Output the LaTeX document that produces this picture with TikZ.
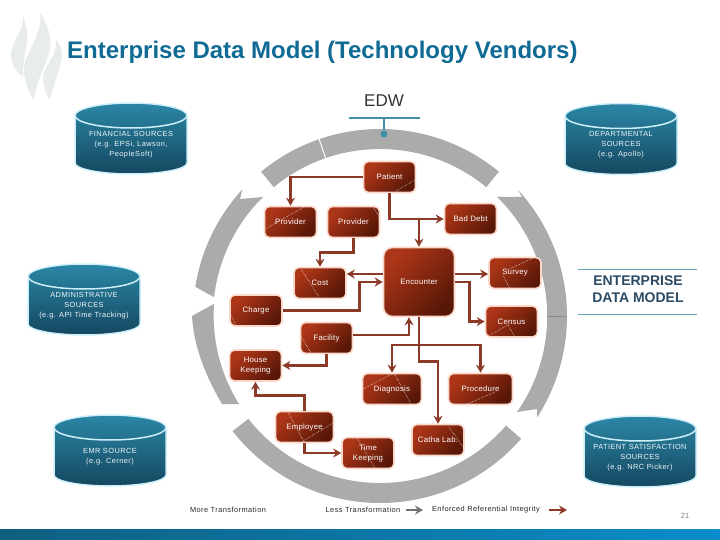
\documentclass[tikz,border=0pt]{standalone}
\usepackage{fontspec}
\setmainfont{Liberation Sans}
\usetikzlibrary{arrows.meta,positioning}
\definecolor{titleblue}{HTML}{0F6A94}
\definecolor{ringgray}{HTML}{ABABAB}
\definecolor{brownline}{HTML}{8C3A28}
\definecolor{tblhi}{HTML}{AE3618}
\definecolor{tbllo}{HTML}{581707}
\definecolor{tblrim}{HTML}{FBD8CA}
\definecolor{dbhi}{HTML}{2B87A6}
\definecolor{dblo}{HTML}{154760}
\definecolor{dbrim}{HTML}{CDEFF9}
\definecolor{navytext}{HTML}{2B4A63}
\definecolor{ruleblue}{HTML}{62A9B8}
\definecolor{flamegray}{HTML}{E8ECEC}
\definecolor{barlo}{HTML}{0F5F7F}
\definecolor{barhi}{HTML}{0A8DCB}

\begin{document}
\begin{tikzpicture}[
  x=1pt, y=1pt,
  tbl/.style={rectangle, rounded corners=5pt, draw=tblrim, line width=1.6pt,
    top color=tblhi, bottom color=tbllo, shading angle=45,
    minimum width=52pt, minimum height=31pt, inner sep=0pt, align=center,
    text=white, font=\fontsize{7.8}{10}\selectfont\addfontfeature{LetterSpace=3}},
  edge/.style={-{Stealth[length=8pt,width=9pt]}, line width=2.8pt, draw=brownline},
  dots/.style={white, densely dotted, line width=0.5pt},
  dbase/.pic={
    \shade[top color=dbhi, bottom color=dblo, draw=dbrim, line width=1.5pt]
      (-56,23) arc (180:0:56 and 12.5) -- (56,-24.5) arc (0:-180:56 and 11) -- cycle;
    \draw[dbrim, line width=1.5pt] (-56,23) arc (180:360:56 and 12.5);
  },
  dbtext/.style={align=center, text=white!92!dbhi, font=\fontsize{7.4}{10}\selectfont\addfontfeature{LetterSpace=6}},
  legendtext/.style={text=black!85, font=\fontsize{7.4}{8}\selectfont\addfontfeature{LetterSpace=6}},
  ring/.style={fill=ringgray, draw=none}
]
\useasboundingbox (0,0) rectangle (720,-540);

% --- Bar and logo ---
\shade[left color=barlo, right color=barhi] (0,-529) rectangle (720,-540);
\fill[flamegray] (23,-15) .. controls (27,-28) and (29,-36) .. (26,-47) .. controls (24,-57) and (23,-68) .. (23,-77)
  .. controls (16,-72) and (11,-64) .. (11,-55) .. controls (11,-42) and (24,-32) .. (23,-15) -- cycle;
\fill[flamegray] (40,-13) .. controls (47,-22) and (52,-38) .. (50,-48) .. controls (47,-65) and (36,-80) .. (34,-100)
  .. controls (27,-90) and (24,-78) .. (24,-68) .. controls (25,-52) and (43,-35) .. (40,-13) -- cycle;
\fill[flamegray] (56,-40) .. controls (62,-46) and (63,-55) .. (61,-62) .. controls (58,-75) and (52,-88) .. (50,-100)
  .. controls (45,-92) and (43,-85) .. (43,-77) .. controls (44,-65) and (57,-58) .. (56,-40) -- cycle;

% --- Title ---
\node[anchor=west, inner sep=0pt, text=titleblue, font=\fontsize{24}{28}\selectfont\bfseries] (title) at (67,-52)
  {Enterprise Data Model (Technology Vendors)};

% --- Ring ---
\begin{scope}[shift={(380,-316)}]
  \fill[ring] (50.5:187) arc (50.5:129.5:187) -- (129.5:167) arc (129.5:50.5:167) -- cycle;
  \draw[white, line width=1pt] (109:165) -- (109:189);
  \fill[ring] (42.4:187) arc (42.4:-32.8:187) -- (157,-93) -- (137,-96) arc (-35:45.7:167) -- (142,119) -- cycle;
  \fill[ring] (-41:187) arc (-41:-142:187) -- (-142:167) arc (-142:-41:167) -- cycle;
  \fill[ring] (-188,0) .. controls (-186,-34) and (-172,-64) .. (-158,-88) -- (-141,-88) arc (212:176:167) -- cycle;
  \fill[ring] (171:187) arc (171:137.4:187) -- (-140,117) -- (-117,119) arc (134.5:173.5:167) -- cycle;
  \draw[black!45, line width=0.6pt] (0:167) -- (0:187);
\end{scope}

% --- EDW ---
\node[text=black!80, font=\fontsize{17}{20}\selectfont] (edw) at (384,-101) {EDW};
\coordinate (edwl) at (349,-118);
\coordinate (edwr) at (420,-118);
\coordinate (edwt) at (384,-118);
\node[circle, fill=ruleblue!60!titleblue, inner sep=0pt, minimum size=7pt] (edwdot) at (384,-134) {};
\draw[ruleblue!60!titleblue, line width=2pt] (edwl) -- (edwr);
\draw[ruleblue!60!titleblue, line width=1.5pt] (edwt) -- (edwdot);

% --- Sources ---
\pic (fin) at (131,-138.5) {dbase};
\pic (dept) at (621,-139) {dbase};
\pic (admin) at (84,-299.5) {dbase};
\pic (emr) at (110,-450.5) {dbase};
\pic (sat) at (640,-451.5) {dbase};
\node[dbtext] (fintxt) at (131,-145) {FINANCIAL SOURCES\\(e.g. EPSi, Lawson,\\PeopleSoft)};
\node[dbtext] (depttxt) at (621,-145) {DEPARTMENTAL\\SOURCES\\(e.g. Apollo)};
\node[dbtext] (admintxt) at (84,-306) {ADMINISTRATIVE\\SOURCES\\(e.g. API Time Tracking)};
\node[dbtext] (emrtxt) at (110,-457) {EMR SOURCE\\(e.g. Cerner)};
\node[dbtext] (sattxt) at (640,-458) {PATIENT SATISFACTION\\SOURCES\\(e.g. NRC Picker)};

% --- Right heading ---
\node[align=center, text=navytext, font=\fontsize{14}{17}\selectfont\bfseries] (edm) at (638,-289.5) {ENTERPRISE\\DATA MODEL};
\coordinate (edmal) at (578,-269);
\coordinate (edmar) at (697,-269);
\coordinate (edmbl) at (578,-314);
\coordinate (edmbr) at (697,-314);
\draw[ruleblue, line width=0.8pt] (edmal) -- (edmar);
\draw[ruleblue, line width=0.8pt] (edmbl) -- (edmbr);

% --- Tables ---
\node[tbl] (patient) at (389.5,-177) {Patient};
\node[tbl] (prova) at (290.5,-222) {Provider};
\node[tbl] (provb) at (353.5,-222) {Provider};
\node[tbl] (baddebt) at (470.5,-219) {Bad Debt};
\node[tbl, minimum width=71pt, minimum height=69pt, rounded corners=9pt] (encounter) at (419,-282) {Encounter};
\node[tbl] (cost) at (320,-283) {Cost};
\node[tbl] (survey) at (515,-273) {Survey};
\node[tbl] (charge) at (256,-310.5) {Charge};
\node[tbl] (census) at (511.5,-321.5) {Census};
\node[tbl] (facility) at (326.5,-338) {Facility};
\node[tbl] (housekp) at (255.5,-365.5) {House\\Keeping};
\node[tbl, minimum width=59pt] (diagnosis) at (392,-389) {Diagnosis};
\node[tbl, minimum width=64pt] (procedure) at (480.5,-389) {Procedure};
\node[tbl, minimum width=58pt] (employee) at (304.5,-427) {Employee};
\node[tbl] (timekp) at (368,-453) {Time\\Keeping};
\node[tbl] (cathalab) at (438,-440) {Catha Lab.};

% Dotted marks
\draw[dots] (396,-191) -- (415,-180);
\draw[dots] (265,-229) -- (304,-207);
\draw[dots] (373,-207) -- (380,-218);
\draw[dots] (301,-269) -- (319,-297);
\draw[dots] (507,-270) -- (533,-258);
\draw[dots] (503,-275) -- (510,-289);
\draw[dots] (230,-313) -- (236,-325);
\draw[dots] (490,-335) -- (508,-325) -- (515,-337);
\draw[dots] (300,-335) -- (311,-353);
\draw[dots] (288,-412) -- (304,-442);
\draw[dots] (303,-441) -- (333,-423);
\draw[dots] (357,-438) -- (375,-468);
\draw[dots] (449,-427) -- (465,-450);
\draw[dots] (363,-389) -- (394,-373) -- (411,-404);
\draw[dots] (467,-404) -- (495,-392);

% Links
\coordinate (ebranch) at (419,-345);
\draw[edge] (patient.west) -| (prova.north);
\draw[edge] (patient.south) |- (baddebt.west);
\draw[edge] (encounter.north |- baddebt.west) -- (encounter.north);
\draw[edge] (provb.south) -- ++(0,-14) -| (cost.north);
\draw[edge] ([yshift=8pt]encounter.west) -- ([yshift=8pt]encounter.west -| cost.east);
\draw[edge] (charge.east) -- ++(77,0) |- (encounter.west);
\draw[edge] ([yshift=3pt]facility.east) -| ([xshift=-10pt]encounter.south);
\draw[edge] ([yshift=8pt]encounter.east) -- ([yshift=8pt]encounter.east -| survey.west);
\draw[edge] (encounter.east) -- ++(14,0) |- (census.west);
\draw[edge] (encounter.south) -- ++(0,-44) -| (cathalab.north);
\draw[edge] (ebranch) -| (diagnosis.north);
\draw[edge] (ebranch) -| (procedure.north);
\draw[edge] (facility.south) |- (housekp.east);
\draw[edge] (employee.north) -- ++(0,15) -| (housekp.south);
\draw[edge] (employee.south) |- (timekp.west);

% --- Legend ---
\node[legendtext] (more) at (228,-510) {More Transformation};
\node[legendtext] (less) at (363,-510) {Less Transformation};
\node[legendtext] (enforced) at (486,-510) {Enforced Referential Integrity};
\coordinate (lessa) at (406,-510);
\coordinate (lessb) at (423,-510);
\coordinate (enfa) at (549,-510);
\coordinate (enfb) at (567,-510);
\draw[edge, draw=black!55, line width=2pt] (lessa) -- (lessb);
\draw[edge, line width=2pt] (enfa) -- (enfb);
\node[text=black!50, font=\fontsize{7.5}{9}\selectfont] (pagenum) at (685,-516) {21};
\end{tikzpicture}
\end{document}
